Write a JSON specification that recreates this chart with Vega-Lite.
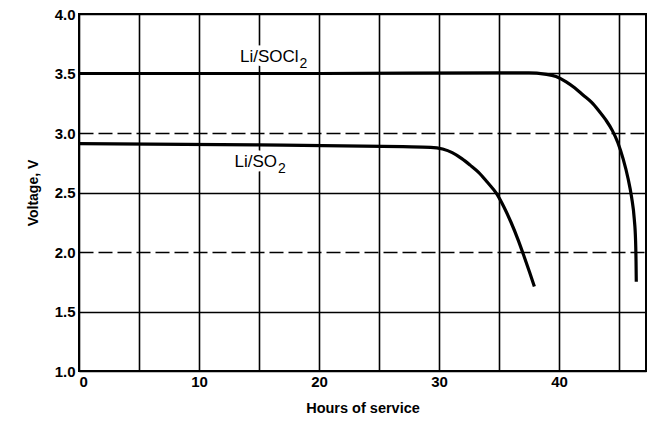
{
  "$schema": "https://vega.github.io/schema/vega-lite/v6.json",
  "autosize": "none",
  "width": 567,
  "height": 357,
  "padding": {"left": 79, "top": 14, "right": 4, "bottom": 52},
  "background": "white",
  "config": {
    "view": {"stroke": "black", "strokeWidth": 2},
    "font": "Liberation Sans"
  },
  "datasets": {
    "curves": [
      {"cell": "Li/SOCl2", "hours": 0, "volts": 3.5},
      {"cell": "Li/SOCl2", "hours": 20, "volts": 3.5},
      {"cell": "Li/SOCl2", "hours": 35, "volts": 3.505},
      {"cell": "Li/SOCl2", "hours": 37.5, "volts": 3.505},
      {"cell": "Li/SOCl2", "hours": 38.8, "volts": 3.495},
      {"cell": "Li/SOCl2", "hours": 39.75, "volts": 3.475},
      {"cell": "Li/SOCl2", "hours": 40.6, "volts": 3.43},
      {"cell": "Li/SOCl2", "hours": 41.3, "volts": 3.38},
      {"cell": "Li/SOCl2", "hours": 42.0, "volts": 3.32},
      {"cell": "Li/SOCl2", "hours": 42.7, "volts": 3.26},
      {"cell": "Li/SOCl2", "hours": 43.3, "volts": 3.19},
      {"cell": "Li/SOCl2", "hours": 43.9, "volts": 3.11},
      {"cell": "Li/SOCl2", "hours": 44.45, "volts": 3.02},
      {"cell": "Li/SOCl2", "hours": 44.9, "volts": 2.92},
      {"cell": "Li/SOCl2", "hours": 45.35, "volts": 2.78},
      {"cell": "Li/SOCl2", "hours": 45.75, "volts": 2.62},
      {"cell": "Li/SOCl2", "hours": 46.05, "volts": 2.46},
      {"cell": "Li/SOCl2", "hours": 46.27, "volts": 2.28},
      {"cell": "Li/SOCl2", "hours": 46.38, "volts": 2.1},
      {"cell": "Li/SOCl2", "hours": 46.42, "volts": 1.92},
      {"cell": "Li/SOCl2", "hours": 46.44, "volts": 1.75},
      {"cell": "Li/SO2", "hours": 0, "volts": 2.91},
      {"cell": "Li/SO2", "hours": 15, "volts": 2.9},
      {"cell": "Li/SO2", "hours": 27, "volts": 2.885},
      {"cell": "Li/SO2", "hours": 29.3, "volts": 2.88},
      {"cell": "Li/SO2", "hours": 30.3, "volts": 2.865},
      {"cell": "Li/SO2", "hours": 31.1, "volts": 2.835},
      {"cell": "Li/SO2", "hours": 31.9, "volts": 2.785},
      {"cell": "Li/SO2", "hours": 32.6, "volts": 2.73},
      {"cell": "Li/SO2", "hours": 33.3, "volts": 2.67},
      {"cell": "Li/SO2", "hours": 34.0, "volts": 2.59},
      {"cell": "Li/SO2", "hours": 34.8, "volts": 2.49},
      {"cell": "Li/SO2", "hours": 35.4, "volts": 2.38},
      {"cell": "Li/SO2", "hours": 36.0, "volts": 2.25},
      {"cell": "Li/SO2", "hours": 36.6, "volts": 2.1},
      {"cell": "Li/SO2", "hours": 37.1, "volts": 1.96},
      {"cell": "Li/SO2", "hours": 37.55, "volts": 1.83},
      {"cell": "Li/SO2", "hours": 37.95, "volts": 1.71}
    ],
    "labels": [
      {"text": "Li/SOCl", "sub": "2", "hours": 18.3, "volts": 3.64},
      {"text": "Li/SO", "sub": "2", "hours": 16.5, "volts": 2.76}
    ]
  },
  "layer": [
    {
      "data": {"name": "curves"},
      "mark": {"type": "line", "color": "black", "strokeWidth": 3.2, "interpolate": "monotone"},
      "encoding": {
        "x": {
          "field": "hours", "type": "quantitative",
          "scale": {"domain": [0, 47.25], "nice": false, "zero": false},
          "axis": {
            "values": [0, 5, 10, 15, 20, 25, 30, 35, 40, 45],
            "labelExpr": "datum.value % 10 == 0 ? datum.label : ''",
            "title": "Hours of service",
            "titleFont": "Liberation Sans", "titleFontSize": 14.5, "titleFontWeight": "bold",
            "titlePadding": 12, "titleColor": "black",
            "labelFontSize": 15, "labelFontWeight": "bold", "labelColor": "black",
            "labelPadding": 3,
            "ticks": false, "domain": false,
            "grid": true, "gridColor": "black", "gridWidth": 1.6, "gridOpacity": 1
          }
        },
        "y": {
          "field": "volts", "type": "quantitative",
          "scale": {"domain": [1, 4], "nice": false, "zero": false},
          "axis": {
            "values": [1, 1.5, 2, 2.5, 3, 3.5, 4],
            "format": ".1f",
            "title": "Voltage, V",
            "titleFont": "Liberation Sans", "titleFontSize": 14, "titleFontWeight": "bold",
            "titlePadding": 14, "titleColor": "black",
            "labelFontSize": 15, "labelFontWeight": "bold", "labelColor": "black",
            "labelPadding": 4,
            "ticks": false, "domain": false,
            "grid": true, "gridColor": "black", "gridWidth": 1.6, "gridOpacity": 1,
            "gridDash": {"condition": {"test": "datum.value == 2 || datum.value == 3", "value": [14, 5]}, "value": []}
          }
        },
        "detail": {"field": "cell"}
      }
    },
    {
      "data": {"name": "labels"},
      "mark": {"type": "text", "color": "white", "stroke": "white", "strokeWidth": 9, "fontSize": 17, "font": "Liberation Sans", "align": "right", "baseline": "middle"},
      "encoding": {
        "x": {"field": "hours", "type": "quantitative"},
        "y": {"field": "volts", "type": "quantitative"},
        "text": {"field": "text"}
      }
    },
    {
      "data": {"name": "labels"},
      "mark": {"type": "text", "color": "white", "stroke": "white", "strokeWidth": 7, "fontSize": 14, "font": "Liberation Sans", "align": "left", "baseline": "middle", "dx": 1, "dy": 7},
      "encoding": {
        "x": {"field": "hours", "type": "quantitative"},
        "y": {"field": "volts", "type": "quantitative"},
        "text": {"field": "sub"}
      }
    },
    {
      "data": {"name": "labels"},
      "mark": {"type": "text", "color": "black", "fontSize": 17, "font": "Liberation Sans", "align": "right", "baseline": "middle"},
      "encoding": {
        "x": {"field": "hours", "type": "quantitative"},
        "y": {"field": "volts", "type": "quantitative"},
        "text": {"field": "text"}
      }
    },
    {
      "data": {"name": "labels"},
      "mark": {"type": "text", "color": "black", "fontSize": 14, "font": "Liberation Sans", "align": "left", "baseline": "middle", "dx": 1, "dy": 7},
      "encoding": {
        "x": {"field": "hours", "type": "quantitative"},
        "y": {"field": "volts", "type": "quantitative"},
        "text": {"field": "sub"}
      }
    }
  ]
}
